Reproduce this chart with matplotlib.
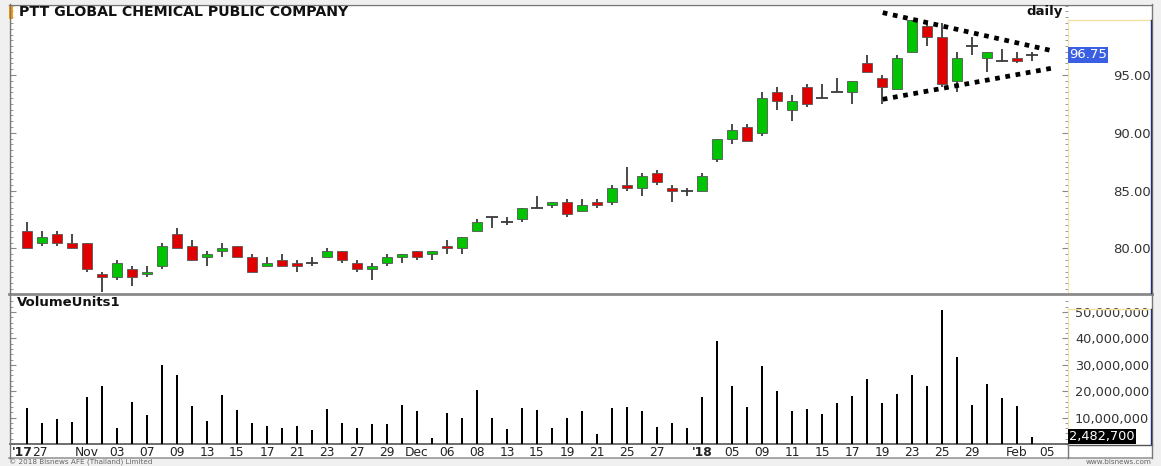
import matplotlib
matplotlib.use("Agg")
import matplotlib.pyplot as plt
import numpy as np
from matplotlib.patches import Rectangle
from matplotlib.lines import Line2D
from matplotlib.ticker import MultipleLocator, FixedLocator, FuncFormatter

# daily OHLC (one bar per trading day)
opens = [81.5, 80.5, 81.25, 80.5, 80.5, 77.75, 77.5, 78.25, 77.75, 78.5,
         81.25, 80.25, 79.25, 79.75, 80.25, 79.25, 78.5, 79.0, 78.75, 78.75,
         79.25, 79.75, 78.75, 78.25, 78.75, 79.25, 79.75, 79.5, 80.25, 80.0,
         81.5, 82.75, 82.25, 82.5, 83.5, 83.75, 84.0, 83.25, 84.0, 84.0,
         85.5, 85.25, 86.5, 85.25, 85.0, 85.0, 87.75, 89.5, 90.5, 90.0,
         93.5, 92.0, 94.0, 93.0, 93.5, 93.5, 96.0, 94.75, 93.75, 97.0,
         99.25, 98.25, 94.5, 97.5, 96.5, 96.25, 96.5, 96.75]
highs = [82.25, 81.5, 81.5, 81.25, 80.5, 78.0, 79.0, 78.5, 78.5, 80.5,
         81.75, 80.75, 79.75, 80.5, 80.25, 79.5, 79.25, 79.5, 79.0, 79.25,
         80.0, 79.75, 79.0, 78.75, 79.5, 79.5, 79.75, 79.75, 80.75, 81.0,
         82.5, 82.75, 82.75, 83.5, 84.5, 84.0, 84.25, 84.25, 84.25, 85.5,
         87.0, 86.5, 86.75, 85.5, 85.25, 86.5, 89.5, 90.75, 90.75, 93.5,
         94.0, 93.25, 94.25, 94.25, 94.75, 94.5, 96.75, 95.0, 96.75, 99.75,
         99.5, 99.5, 97.0, 98.25, 97.0, 97.25, 97.0, 97.0]
lows = [80.0, 80.25, 80.25, 80.0, 78.0, 76.25, 77.25, 76.75, 77.5, 78.25,
        80.0, 79.0, 78.5, 79.25, 79.25, 78.0, 78.5, 78.5, 78.0, 78.5,
        79.25, 78.75, 78.0, 77.25, 78.5, 78.75, 79.0, 79.0, 79.5, 79.5,
        81.5, 81.75, 82.0, 82.25, 83.5, 83.5, 82.75, 83.25, 83.5, 83.75,
        85.0, 84.5, 85.5, 84.0, 84.5, 85.0, 87.5, 89.0, 89.25, 89.75,
        92.0, 91.0, 92.25, 93.0, 93.5, 92.5, 95.25, 92.5, 93.75, 97.0,
        97.5, 94.0, 93.5, 96.75, 95.25, 96.25, 96.0, 96.25]
closes = [80.0, 81.0, 80.5, 80.0, 78.25, 77.5, 78.75, 77.5, 78.0, 80.25,
          80.0, 79.0, 79.5, 80.0, 79.25, 78.0, 78.75, 78.5, 78.5, 78.75,
          79.75, 79.0, 78.25, 78.5, 79.25, 79.5, 79.25, 79.75, 80.0, 81.0,
          82.25, 82.75, 82.25, 83.5, 83.5, 84.0, 83.0, 83.75, 83.75, 85.25,
          85.25, 86.25, 85.75, 85.0, 85.0, 86.25, 89.5, 90.25, 89.25, 93.0,
          92.75, 92.75, 92.5, 93.0, 93.5, 94.5, 95.25, 94.0, 96.5, 99.75,
          98.25, 94.25, 96.5, 97.5, 97.0, 96.25, 96.25, 96.75]
# volume in millions of shares
volumes = [13.8, 7.8, 9.5, 8.3, 17.7, 22.1, 5.9, 15.8, 10.9, 30.0,
           26.3, 14.3, 8.6, 18.6, 12.8, 7.8, 6.9, 6.2, 6.9, 5.3,
           13.3, 7.8, 6.2, 7.5, 7.6, 14.9, 12.4, 2.3, 11.9, 10.0,
           20.5, 9.8, 5.8, 13.5, 12.8, 6.2, 9.8, 12.4, 3.7, 13.5,
           13.9, 12.5, 6.6, 8.0, 6.2, 17.7, 39.0, 21.8, 13.9, 29.4,
           20.2, 12.4, 13.4, 11.2, 15.4, 18.1, 24.6, 15.5, 19.1, 26.0,
           22.1, 50.6, 33.1, 14.6, 22.9, 17.3, 14.3, 2.4827]
date_pos = [-0.3, 0.85, 4, 6, 8, 10, 12, 14, 16, 18, 20, 22, 24, 26, 28, 30, 32,
            34, 36, 38, 40, 42, 45, 47, 49, 51, 53, 55, 57, 59, 61, 63, 66, 68]
date_labels = ["'17", "27", "Nov", "03", "07", "09", "13", "15", "17", "21", "23",
               "27", "29", "Dec", "06", "08", "13", "15", "19", "21", "25", "27",
               "'18", "05", "09", "11", "15", "17", "19", "23", "25", "29", "Feb", "05"]
price_ticks = [80, 85, 90, 95]
volume_ticks = [10, 20, 30, 40, 50]
# symmetrical triangle drawn on the chart
trend_x = [57.05, 68.35]
trend_upper = [100.4, 97.1]
trend_lower = [92.9, 95.6]
last_price = 96.75
last_volume = 2482700

W, H = 1161, 466
plt.rcParams['font.family'] = ['DejaVu Sans']

def rect(x0, y0, x1, y1):
    return [x0 / W, 1 - y1 / H, (x1 - x0) / W, (y1 - y0) / H]

def fx(x):
    return x / W

def fy(y):
    return 1 - y / H

fig = plt.figure(figsize=(W / 100, H / 100), dpi=100, facecolor='#f0f0f0')
fig.patches.append(Rectangle((fx(9), fy(458)), fx(1152) - fx(9), fy(4) - fy(458),
                             transform=fig.transFigure, facecolor='white', edgecolor='none', zorder=-10))

ax = fig.add_axes(rect(10, 5, 1068, 293))
axv = fig.add_axes(rect(10, 297, 1068, 444))

x = np.arange(len(closes))
o = np.array(opens); c = np.array(closes)
hi = np.array(highs); lo = np.array(lows)
up = c > o
down = c < o
doji = c == o

ax.vlines(x, lo, hi, color='#3a3a3a', lw=1.3, zorder=2)
ax.bar(x[up], (c - o)[up], bottom=o[up], width=0.7, color='#00c400',
       edgecolor='#555555', linewidth=0.6, zorder=3)
ax.bar(x[down], (o - c)[down], bottom=c[down], width=0.7, color='#e00000',
       edgecolor='#555555', linewidth=0.6, zorder=3)
ax.hlines(c[doji], x[doji] - 0.37, x[doji] + 0.37, color='#3a3a3a', lw=1.3, zorder=3)

for yy in (trend_upper, trend_lower):
    ax.plot(trend_x, yy, color='black', lw=3.4, linestyle=(0, (1.0, 1.2)),
            dash_capstyle='butt', zorder=5)

ax.set_xlim(-1.13, 69.4)
ax.set_ylim(76.14, 101.06)
ax.set_xticks([])
ax.yaxis.set_major_locator(FixedLocator(price_ticks))
ax.yaxis.set_minor_locator(MultipleLocator(0.5))
ax.yaxis.set_major_formatter(FuncFormatter(lambda v, p: '%.2f' % v))
ax.tick_params(axis='y', which='both', left=True, right=True, labelleft=False,
               labelright=True, direction='in', color='#888888')
ax.tick_params(axis='y', which='major', length=4, pad=59.5, labelsize=9.5, labelcolor='#333333')
ax.tick_params(axis='y', which='minor', length=2)
for lbl in ax.get_yticklabels():
    lbl.set_horizontalalignment('right')
ax.spines['top'].set_visible(False)
ax.spines['bottom'].set_visible(False)
ax.spines['left'].set_color('#666666')
ax.spines['right'].set_color('#f2e2a0')
ax.spines['right'].set_bounds(76.14, 99.76)

ax.text(1.0 + 1 / 1058, last_price, '%.2f' % last_price, transform=ax.get_yaxis_transform(),
        ha='left', va='center', fontsize=9.5, color='white',
        bbox=dict(boxstyle='square,pad=0.1', facecolor='#3b5fe2', edgecolor='none'))

# volume panel
axv.bar(x, volumes, width=0.17, color='black', zorder=3)
axv.set_xlim(-1.13, 69.4)
axv.set_ylim(0, 55.7)
axv.yaxis.set_major_locator(FixedLocator(volume_ticks))
axv.yaxis.set_minor_locator(MultipleLocator(2))
axv.yaxis.set_major_formatter(FuncFormatter(lambda v, p: '{:,}'.format(int(round(v * 1e6)))))
axv.tick_params(axis='y', which='both', left=True, right=True, labelleft=False,
                labelright=True, direction='in', color='#888888')
axv.tick_params(axis='y', which='major', length=4, pad=58.5, labelsize=9.3, labelcolor='#333333')
axv.tick_params(axis='y', which='minor', length=2)
for lbl in axv.get_yticklabels():
    lbl.set_horizontalalignment('right')
axv.set_xticks(date_pos)
axv.set_xticklabels(date_labels, fontsize=8.8, color='#222222')
for lbl in axv.get_xticklabels():
    if lbl.get_text().startswith("'"):
        lbl.set_fontweight('bold')
axv.tick_params(axis='x', length=0, pad=1.5)
axv.spines['top'].set_visible(False)
axv.spines['left'].set_color('#666666')
axv.spines['bottom'].set_color('#555555')
axv.spines['bottom'].set_linewidth(1.2)
axv.spines['right'].set_color('#f2e2a0')
axv.spines['right'].set_bounds(0, 51.1)

axv.text(1.0 + 1 / 1058, last_volume / 1e6 + 0.3, '{:,}'.format(last_volume),
         transform=axv.get_yaxis_transform(), ha='left', va='center', fontsize=9.3,
         color='white', bbox=dict(boxstyle='square,pad=0.1', facecolor='black', edgecolor='none'))

# frame lines and separators
def hline(y, x0, x1, color, lw):
    fig.lines.append(Line2D([fx(x0), fx(x1)], [fy(y), fy(y)], transform=fig.transFigure,
                            color=color, lw=lw))

def vline(x0, y0, y1, color, lw):
    fig.lines.append(Line2D([fx(x0), fx(x0)], [fy(y0), fy(y1)], transform=fig.transFigure,
                            color=color, lw=lw))

hline(4.5, 9, 1152, '#777777', 1)
hline(294, 9, 1152, '#8a8a8a', 2)
hline(20, 1068, 1151, '#f2e2a0', 1)
hline(309, 1068, 1151, '#f2e2a0', 1)
hline(444.5, 1068, 1152, '#555555', 1)
hline(458, 9, 1152, '#999999', 1.2)
vline(1152, 4, 458, '#777777', 1)
vline(1150.8, 20, 293, '#1f2f7a', 1)
vline(1150.8, 309, 444, '#1f2f7a', 1)
vline(1068, 444, 458, '#777777', 1)
vline(9.5, 4, 458, '#777777', 1)

fig.patches.append(Rectangle((fx(9), fy(19)), fx(4), fy(5) - fy(19),
                             transform=fig.transFigure, facecolor='#ff9a00', edgecolor='none'))
fig.text(fx(19), fy(12), 'PTT GLOBAL CHEMICAL PUBLIC COMPANY', fontsize=10.2,
         fontweight='bold', color='#111111', ha='left', va='center')
fig.text(fx(1063), fy(12), 'daily', fontsize=9.5, fontweight='bold',
         color='#111111', ha='right', va='center')
fig.text(fx(17), fy(302), 'VolumeUnits1', fontsize=9.5, fontweight='bold',
         color='#111111', ha='left', va='center')
fig.text(fx(9), fy(462.5), '\u00a9 2018 Bisnews AFE (Thailand) Limited', fontsize=5.2,
         color='#666666', ha='left', va='center')
fig.text(fx(1152), fy(462.5), 'www.bisnews.com', fontsize=5.2,
         color='#666666', ha='right', va='center')

fig.savefig('out.png', dpi=100, facecolor=fig.get_facecolor())
